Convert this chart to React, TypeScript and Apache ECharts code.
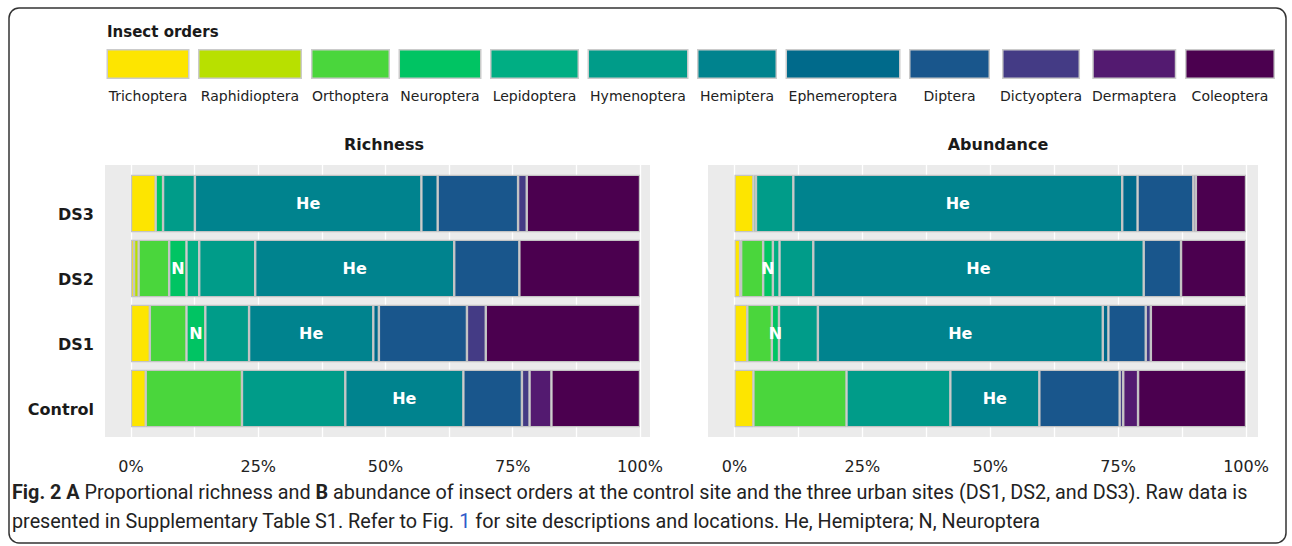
import React, { useEffect, useRef } from "react";
import * as echarts from "echarts";

// ---------- data ----------
const ORDERS = [
  "Trichoptera", "Raphidioptera", "Orthoptera", "Neuroptera", "Lepidoptera", "Hymenoptera",
  "Hemiptera", "Ephemeroptera", "Diptera", "Dictyoptera", "Dermaptera", "Coleoptera",
];
const SITES = ["Control", "DS1", "DS2", "DS3"];
const MAJOR_TICKS = [0, 25, 50, 75, 100];
const ALL_TICKS = [0, 12.5, 25, 37.5, 50, 62.5, 75, 87.5, 100];

// proportional richness (%) per order, in ORDERS order
const richnessControl = [2.9, null, 18.9, null, null, 20.3, 23.2, null, 11.5, 1.5, 4.3, 17.4];
const richnessDS1 = [3.7, null, 7.2, 3.7, null, 8.6, 24.4, 1.1, 17.3, 3.7, null, 30.3];
const richnessDS2 = [0.6, 0.9, 6.0, 3.4, 2.5, 11.0, 39.1, null, 12.8, null, null, 23.7];
const richnessDS3 = [4.85, null, null, 1.45, null, 6.25, 44.5, 3.2, 15.8, 1.7, null, 22.25];

// proportional abundance (%) per order, in ORDERS order
const abundanceControl = [3.7, null, 18.2, null, null, 20.3, 17.4, null, 15.7, 0.7, 2.9, 21.1];
const abundanceDS1 = [2.5, null, 4.8, 1.4, null, 7.6, 55.7, 1.1, 7.3, 1.0, null, 18.6];
const abundanceDS2 = [1.1, 0.2, 4.3, 1.9, 1.3, 6.6, 64.6, null, 7.3, null, null, 12.7];
const abundanceDS3 = [3.7, null, null, 0.5, null, 7.3, 64.3, 3.0, 10.9, 0.5, null, 9.8];

// in-bar abbreviations
const LABEL_HE_ORDER = "Hemiptera";
const LABEL_HE_SITES = ["Control", "DS1", "DS2", "DS3"];
const LABEL_N_ORDER = "Neuroptera";
const LABEL_N_SITES = ["DS1", "DS2"];

const LEGEND_TITLE = "Insect orders";
const PANEL_TITLES = ["Richness", "Abundance"];

// ---------- styles ----------
const COLORS = [
  "#FDE500", "#B8E000", "#4AD63C", "#00C463", "#00AE83", "#009C89",
  "#00838E", "#006A8B", "#19568C", "#443B85", "#531A70", "#4B004F",
];
const KEY_WIDTHS = [80, 101, 76, 80, 86, 98, 77, 112, 78, 75, 81, 87];
const FONT = "'DejaVu Sans', 'Liberation Sans', sans-serif";
const CAPTION_FONT = "Roboto, sans-serif";
const TEXT = "#1a1a1a";

const PANELS = [
  { rows: [richnessControl, richnessDS1, richnessDS2, richnessDS3], bgLeft: 105, bgWidth: 545, min: -5.108, max: 101.965, left: 131, width: 509, titleX: 384, showY: true },
  { rows: [abundanceControl, abundanceDS1, abundanceDS2, abundanceDS3], bgLeft: 708, bgWidth: 550, min: -5.181, max: 102.346, left: 734.5, width: 511.5, titleX: 998, showY: false },
];

function buildOption() {
  const grid: any[] = [];
  const xAxis: any[] = [];
  const yAxis: any[] = [];
  const series: any[] = [];

  PANELS.forEach((p, pi) => {
    // background grid (panel with gridlines and tick labels)
    grid.push({ left: p.bgLeft, top: 165, width: p.bgWidth, height: 272, show: true, backgroundColor: "#EBEBEB", borderWidth: 0 });
    // bar grid
    grid.push({ left: p.left, top: 171, width: p.width, height: 260, show: false });
    const bgIdx = pi * 2;
    const barIdx = pi * 2 + 1;

    xAxis.push({
      type: "value", gridIndex: bgIdx, min: p.min, max: p.max,
      axisLine: { show: false },
      axisTick: { show: false, customValues: ALL_TICKS },
      splitLine: { show: true, lineStyle: { color: "#FFFFFF", width: 1.3 } },
      axisLabel: {
        customValues: MAJOR_TICKS, formatter: (v: number) => `${v}%`,
        fontFamily: FONT, fontSize: 16, color: "#222", margin: 21,
      },
    });
    yAxis.push({ type: "value", gridIndex: bgIdx, min: 0, max: 1, show: false });

    xAxis.push({ type: "value", gridIndex: barIdx, min: 0, max: 100, show: false });
    yAxis.push({
      type: "category", gridIndex: barIdx, data: SITES,
      axisLine: { show: false }, axisTick: { show: false }, splitLine: { show: false },
      axisLabel: {
        show: p.showY, fontFamily: FONT, fontSize: 16, fontWeight: "bold", color: TEXT,
        margin: 37, verticalAlign: "top", lineHeight: 22,
      },
    });

    ORDERS.forEach((order, oi) => {
      series.push({
        type: "bar", name: order, stack: "p" + pi,
        xAxisIndex: barIdx, yAxisIndex: barIdx,
        barCategoryGap: "11.5%",
        itemStyle: { color: COLORS[oi], borderColor: "#C4C4C4", borderWidth: 1.2 },
        emphasis: { disabled: true },
        label: { show: false, position: "inside", color: "#FFFFFF", fontFamily: FONT, fontWeight: "bold", fontSize: 16 },
        data: SITES.map((site, si) => {
          const v = p.rows[si][oi];
          let text: string | null = null;
          if (order === LABEL_HE_ORDER && LABEL_HE_SITES.includes(site)) text = "He";
          if (order === LABEL_N_ORDER && LABEL_N_SITES.includes(site)) text = "N";
          return text && v != null ? { value: v, label: { show: true, formatter: text } } : { value: v == null ? "-" : v };
        }),
      });
    });
  });

  const rich: any = {
    t: { fontFamily: FONT, fontSize: 14, color: "#222", align: "center", lineHeight: 16, padding: [20, 0, 0, 0] },
  };
  ORDERS.forEach((_, i) => {
    rich["k" + i] = { width: KEY_WIDTHS[i], height: 27, backgroundColor: COLORS[i], borderColor: "#CBCBCB", borderWidth: 1.5, align: "center" };
  });

  const graphic: any[] = [
    {
      type: "rect", z: 100, silent: true,
      shape: { x: 9, y: 8, width: 1277, height: 535, r: 10 },
      style: { fill: "none", stroke: "#333", lineWidth: 1.5 },
    },
    {
      type: "text", x: 107, y: 32, silent: true,
      style: { text: LEGEND_TITLE, font: `bold 15px ${FONT}`, fill: TEXT, verticalAlign: "middle", textVerticalAlign: "middle" },
    },
    ...PANELS.map((p, i) => ({
      type: "text", x: p.titleX, y: 144, silent: true,
      style: { text: PANEL_TITLES[i], font: `bold 16px ${FONT}`, fill: TEXT, align: "center", textAlign: "center", verticalAlign: "middle", textVerticalAlign: "middle" },
    })),
    {
      type: "text", x: 12, y: 478, silent: true,
      style: {
        text:
          "{b|Fig. 2 A} Proportional richness and {b|B} abundance of insect orders at the control site and the three urban sites (DS1, DS2, and DS3). Raw data is\n" +
          "presented in Supplementary Table S1. Refer to Fig. {l|1} for site descriptions and locations. He, Hemiptera; N, Neuroptera",
        font: `19.8px ${CAPTION_FONT}`,
        fill: "#222",
        lineHeight: 29,
        rich: {
          b: { font: `bold 19.8px ${CAPTION_FONT}`, fill: "#222", lineHeight: 29 },
          l: { font: `19.8px ${CAPTION_FONT}`, fill: "#2F5BC9", lineHeight: 29 },
        },
      },
    },
  ];

  return {
    animation: false,
    backgroundColor: "#FFFFFF",
    legend: {
      data: ORDERS, left: 102, top: 49, width: 1188, padding: 0,
      itemWidth: 0, itemHeight: 0, itemGap: 4, selectedMode: false,
      formatter: (name: string) => `{k${ORDERS.indexOf(name)}|}\n{t|${name}}`,
      textStyle: { fontFamily: FONT, fontSize: 14, color: "#222", rich },
    },
    grid, xAxis, yAxis, series, graphic,
  };
}

export default function App() {
  const ref = useRef<HTMLDivElement>(null);
  useEffect(() => {
    const chart = echarts.init(ref.current!, null, { renderer: "svg" });
    chart.setOption(buildOption() as any);
    return () => chart.dispose();
  }, []);
  return (
    <div
      ref={ref}
      style={{ position: "fixed", left: 0, top: 0, width: 1292, height: 546, background: "#fff" }}
    />
  );
}
